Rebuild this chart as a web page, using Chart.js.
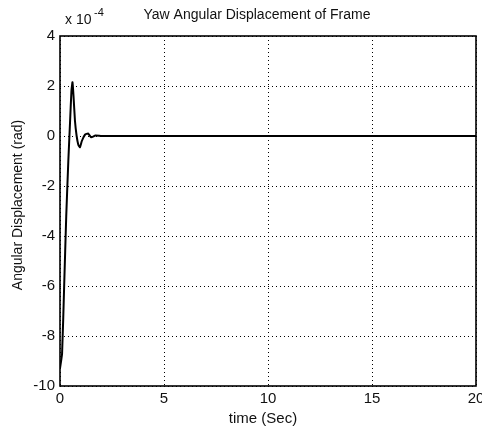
<!DOCTYPE html>
<html>
<head>
<meta charset="utf-8">
<script src="https://cdn.jsdelivr.net/npm/chart.js@4/dist/chart.umd.min.js"></script>
<style>
	html, body { margin: 0; padding: 0; background: #fff; }
	#wrap { width: 482px; height: 432px; }
</style>
</head>
<body>
<div id="wrap"><canvas id="c" width="482" height="432"></canvas></div>
<script>
// Yaw angular displacement of frame, values in units of 1e-4 rad
var timeSec = [0, 0.1, 0.2, 0.3, 0.4, 0.48, 0.55, 0.6, 0.65, 0.72, 0.8, 0.88, 0.96, 1.05, 1.2, 1.35, 1.5, 1.7, 2.0, 5, 10, 15, 20];
var yawDisp = [-9.3, -8.7, -6.0, -3.2, -1.0, 0.5, 1.8, 2.15, 1.6, 0.6, 0.0, -0.35, -0.45, -0.2, 0.05, 0.1, -0.05, 0.02, 0, 0, 0, 0, 0];
var xTicks = [0, 5, 10, 15, 20];
var yTicks = [-10, -8, -6, -4, -2, 0, 2, 4];

var FONT = "'Liberation Sans', Arial, sans-serif";

var points = [];
for (var i = 0; i < timeSec.length; i++) {
	points.push({ x: timeSec[i], y: yawDisp[i] });
}

// Box, title, axis labels and the exponent note, drawn MATLAB style
var frame = {
	id: "frame",
	afterDraw: function(chart) {
		var ctx = chart.ctx;
		var a = chart.chartArea;
		ctx.save();
		ctx.strokeStyle = "#000";
		ctx.lineWidth = 1.6;
		ctx.strokeRect(a.left, a.top, a.right - a.left, a.bottom - a.top);

		ctx.fillStyle = "#111";
		ctx.font = "14px " + FONT;
		ctx.textAlign = "center";
		ctx.textBaseline = "middle";
		ctx.fillText("Yaw Angular Displacement of Frame", 257, 15);
		ctx.font = "15px " + FONT;
		ctx.fillText("time (Sec)", 263, 419);

		ctx.save();
		ctx.translate(18, 205);
		ctx.rotate(-Math.PI / 2);
		ctx.font = "14px " + FONT;
		ctx.fillText("Angular Displacement (rad)", 0, 0);
		ctx.restore();

		ctx.textAlign = "left";
		ctx.font = "14px " + FONT;
		ctx.fillText("x 10", 65, 20);
		ctx.font = "11px " + FONT;
		ctx.fillText("-4", 94, 13);
		ctx.restore();
	}
};

new Chart(document.getElementById("c"), {
	type: "line",
	data: {
		datasets: [{
			data: points,
			borderColor: "#000",
			borderWidth: 2,
			pointRadius: 0,
			fill: false,
			tension: 0.15
		}]
	},
	options: {
		responsive: false,
		animation: false,
		layout: { padding: { top: 36, right: 6, left: 0, bottom: 0 } },
		plugins: { legend: { display: false }, tooltip: { enabled: false } },
		scales: {
			x: {
				type: "linear",
				min: 0, max: 20,
				afterFit: function(s) { s.height = 46; s.paddingLeft = 0; s.paddingRight = 0; },
				afterBuildTicks: function(s) { s.ticks = xTicks.map(function(v) { return { value: v }; }); },
				ticks: { color: "#111", font: { family: FONT, size: 15 }, padding: 4, maxRotation: 0 },
				grid: { color: "#000", lineWidth: 1, drawTicks: false },
				border: { display: false, dash: [1, 3] }
			},
			y: {
				min: -10, max: 4,
				afterFit: function(s) { s.width = 60; s.paddingTop = 0; s.paddingBottom = 0; },
				afterBuildTicks: function(s) { s.ticks = yTicks.map(function(v) { return { value: v }; }); },
				ticks: { color: "#111", font: { family: FONT, size: 15 }, padding: 5 },
				grid: { color: "#000", lineWidth: 1, drawTicks: false },
				border: { display: false, dash: [1, 3] }
			}
		}
	},
	plugins: [frame]
});
</script>
</body>
</html>
